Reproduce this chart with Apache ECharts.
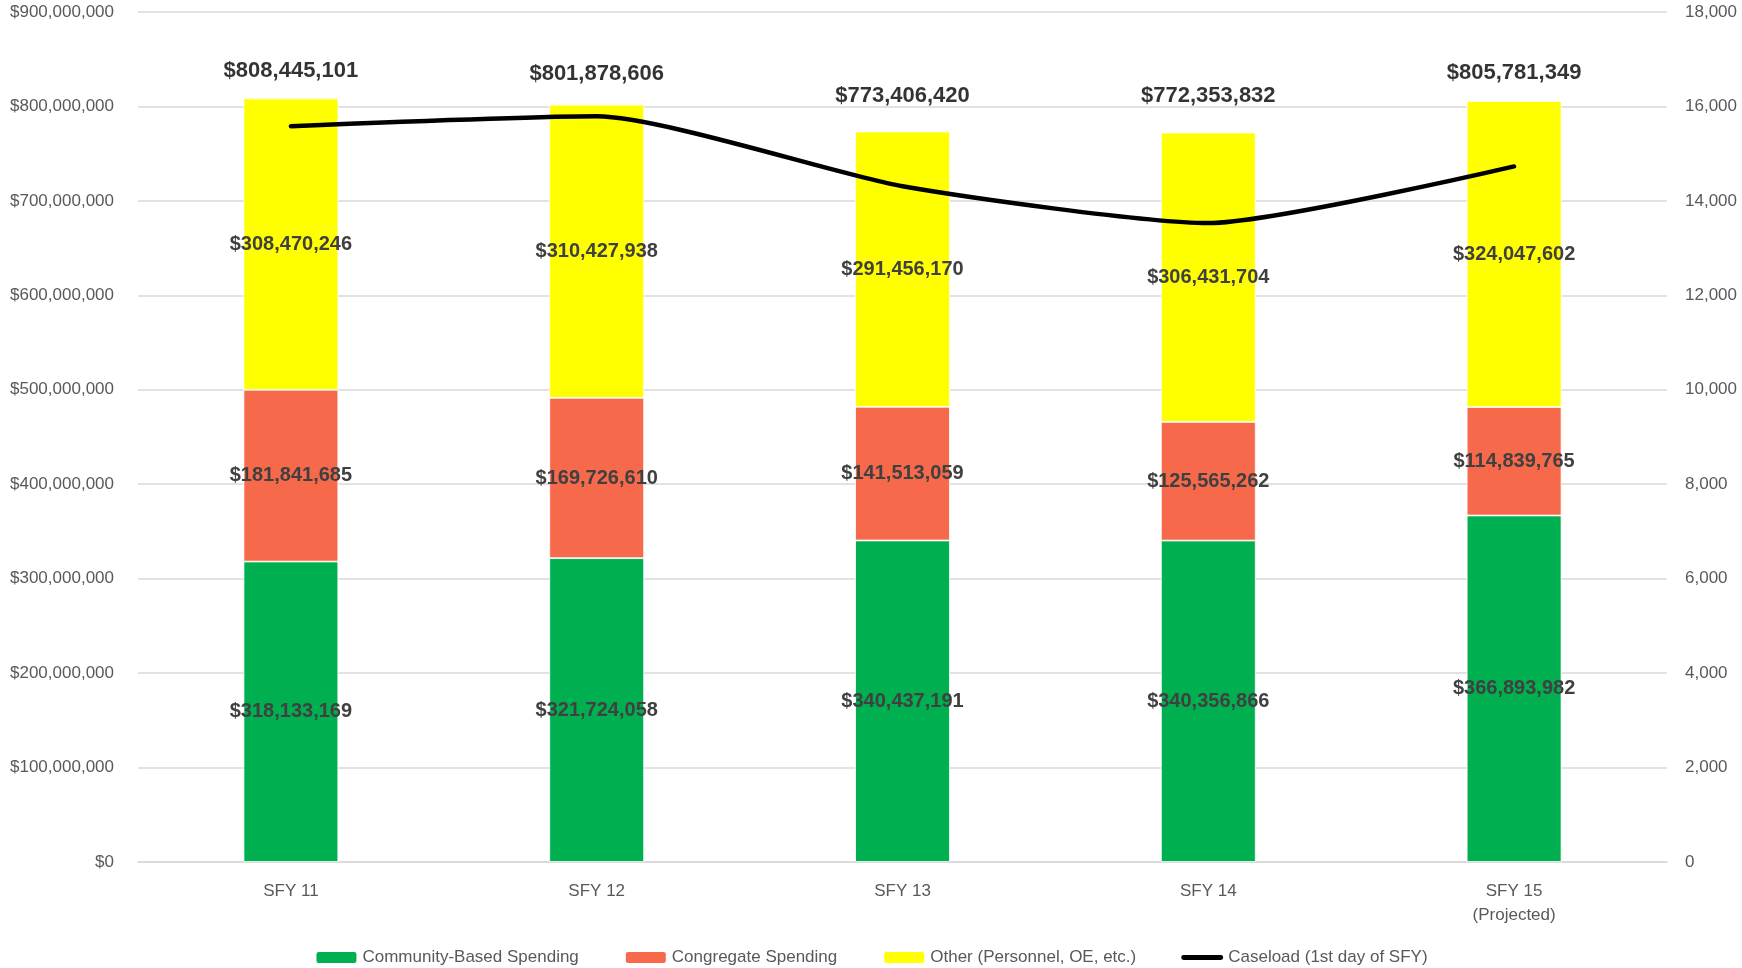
<!DOCTYPE html>
<html>
<head>
<meta charset="utf-8">
<script src="https://cdn.jsdelivr.net/npm/echarts@6/dist/echarts.min.js"></script>
<style>html,body{margin:0;padding:0;background:#fff}#c{width:1742px;height:968px}</style>
</head>
<body>
<div id="c"></div>
<script>
const categories = ['SFY 11', 'SFY 12', 'SFY 13', 'SFY 14', 'SFY 15\n(Projected)'];
const communitySpending = [318133169, 321724058, 340437191, 340356866, 366893982];
const congregateSpending = [181841685, 169726610, 141513059, 125565262, 114839765];
const otherSpending = [308470246, 310427938, 291456170, 306431704, 324047602];
const totals = [808445101, 801878606, 773406420, 772353832, 805781349];
const caseload = [15580, 15790, 14310, 13530, 14730];
const leftTicks = { min: 0, max: 900000000, interval: 100000000 };
const rightTicks = { min: 0, max: 18000, interval: 2000 };

const fmtMoney = v => '$' + Number(v).toLocaleString('en-US');
const fmtNum = v => Number(v).toLocaleString('en-US');
const FONT = '"Liberation Sans", Arial, sans-serif';
const totalLift = [17, 20, 25, 26, 17];

const segLabel = {
  show: true, position: 'inside', color: '#404040', fontWeight: 'bold',
  fontSize: 20, fontFamily: FONT, formatter: p => fmtMoney(p.value)
};

const chart = echarts.init(document.getElementById('c'));
chart.setOption({
  animation: false,
  textStyle: { fontFamily: FONT },
  grid: { left: 138, right: 75, top: 12, bottom: 106 },
  legend: {
    top: 944, left: 'center', itemWidth: 42, itemHeight: 13, itemGap: 45,
    textStyle: { color: '#595959', fontSize: 17, fontFamily: FONT },
    data: [
      { name: 'Community-Based Spending' },
      { name: 'Congregate Spending' },
      { name: 'Other (Personnel, OE, etc.)' },
      { name: 'Caseload (1st day of SFY)', icon: 'path://M2,0 L40,0 A2.5,2.5 0 0 1 40,5 L2,5 A2.5,2.5 0 0 1 2,0 Z', itemStyle: { color: '#000000' } }
    ]
  },
  xAxis: {
    type: 'category', data: categories,
    axisLine: { lineStyle: { color: '#d9d9d9', width: 1.5 } },
    axisTick: { show: false },
    axisLabel: { color: '#595959', fontSize: 17, fontFamily: FONT, margin: 17, lineHeight: 24 }
  },
  yAxis: [
    {
      type: 'value', min: leftTicks.min, max: leftTicks.max, interval: leftTicks.interval,
      axisLine: { show: false }, axisTick: { show: false },
      splitLine: { lineStyle: { color: '#d9d9d9', width: 1.5 } },
      axisLabel: { color: '#595959', fontSize: 17, fontFamily: FONT, margin: 24, formatter: fmtMoney }
    },
    {
      type: 'value', min: rightTicks.min, max: rightTicks.max, interval: rightTicks.interval,
      axisLine: { show: false }, axisTick: { show: false }, splitLine: { show: false },
      axisLabel: { color: '#595959', fontSize: 17, fontFamily: FONT, margin: 18, formatter: fmtNum }
    }
  ],
  series: [
    {
      name: 'Community-Based Spending', type: 'bar', stack: 'spend', barWidth: '31%',
      data: communitySpending, itemStyle: { color: '#00B050', borderColor: '#ffffff', borderWidth: 0.8 },
      label: segLabel
    },
    {
      name: 'Congregate Spending', type: 'bar', stack: 'spend',
      data: congregateSpending, itemStyle: { color: '#F6694B', borderColor: '#ffffff', borderWidth: 0.8 },
      label: segLabel
    },
    {
      name: 'Other (Personnel, OE, etc.)', type: 'bar', stack: 'spend',
      data: otherSpending, itemStyle: { color: '#FFFF00', borderColor: '#ffffff', borderWidth: 0.8 },
      label: segLabel
    },
    {
      name: 'Totals', type: 'scatter', symbolSize: 0, silent: true,
      data: totals.map((v, i) => ({
        value: v,
        label: { distance: totalLift[i] }
      })),
      label: {
        show: true, position: 'top', color: '#000000', fontWeight: 'bold',
        fontSize: 22, fontFamily: FONT, formatter: p => fmtMoney(p.value)
      },
      z: 5
    },
    {
      name: 'Caseload (1st day of SFY)', type: 'line', yAxisIndex: 1,
      data: caseload, symbol: 'none', smooth: 0.2,
      lineStyle: { color: '#000000', width: 4.5, cap: 'round' },
      itemStyle: { color: '#000000' },
      z: 10
    }
  ]
});
</script>
</body>
</html>
